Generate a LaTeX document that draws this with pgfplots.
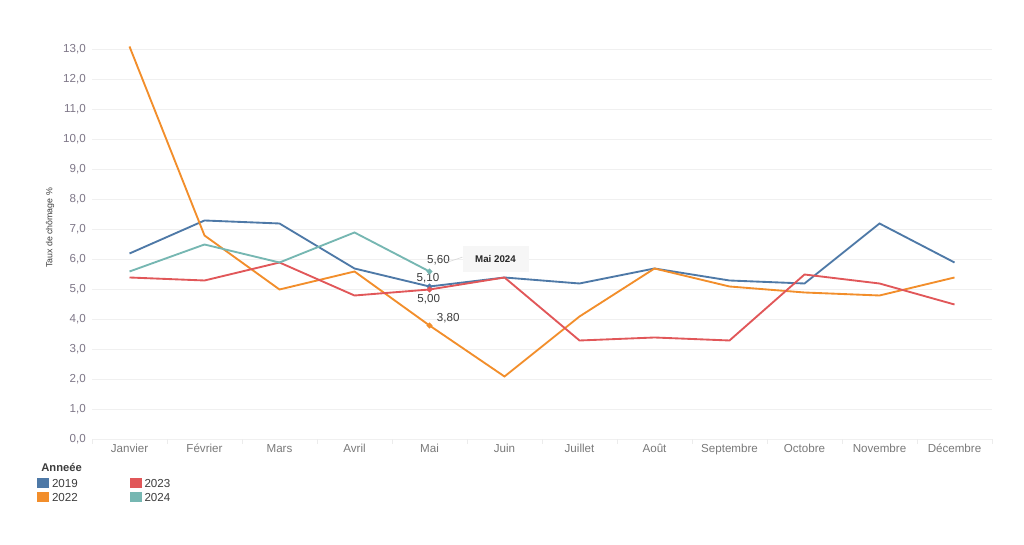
\documentclass[border=0pt]{standalone}
\usepackage{fontspec}
\setmainfont{Liberation Sans}
\usepackage{pgfplots}
\pgfplotsset{compat=1.18}

\definecolor{c2019}{HTML}{4E79A7}
\definecolor{c2022}{HTML}{F28E2B}
\definecolor{c2023}{HTML}{E15759}
\definecolor{c2024}{HTML}{76B7B2}
\definecolor{ticktxt}{RGB}{125,118,135}
\definecolor{lbltxt}{RGB}{60,60,60}

\begin{document}
\begin{tikzpicture}
\path[use as bounding box] (0,0) rectangle (768pt,408.75pt);

\begin{axis}[
  at={(69pt,79.125pt)}, anchor=south west,
  scale only axis, width=675pt, height=299.25pt,
  xmin=-0.5, xmax=11.5, ymin=0, ymax=13.3,
  xtick={0,...,11},
  xticklabels={Janvier,Février,Mars,Avril,Mai,Juin,Juillet,Août,Septembre,Octobre,Novembre,Décembre},
  ytick={0,1,...,13},
  yticklabel={\pgfmathprintnumber[fixed,fixed zerofill,precision=1,use comma]{\tick}},
  /pgf/number format/assume math mode=true,
  minor xtick={-0.5,0.5,...,11.5},
  xtick pos=bottom, ytick pos=left,
  tick align=outside,
  major tick length=0pt,
  minor tick length=3.5pt,
  minor x tick style={color=gray!15, line width=0.5pt},
  axis line style={draw=none},
  ymajorgrids,
  grid style={color=gray!12, line width=0.5pt},
  ticklabel style={font=\fontsize{8.7}{10}\selectfont},
  xticklabel style={color=gray!95!black, inner sep=0pt, yshift=-3.5pt},
  yticklabel style={color=ticktxt, inner sep=0pt, xshift=-4.5pt},
  ylabel={Taux de chômage \%},
  ylabel style={font=\fontsize{6.6}{8}\selectfont, color=lbltxt,
    at={(axis description cs:-0.0467,0.53)}, anchor=center},
  every axis plot/.append style={line width=1.4pt, mark size=1.3pt, mark indices={5}},
  legend columns=2, transpose legend,
  legend cell align=left,
  legend style={at={(axis description cs:-0.061,-0.092)}, anchor=north west,
    draw=none, fill=none, inner sep=0pt, row sep=-1pt,
    font=\fontsize{8.7}{10}\selectfont, text=lbltxt,
    /tikz/column 2/.style={column sep=37pt}},
  legend image code/.code={\fill[#1] (0pt,-2.2pt) rectangle (7.6pt,3.8pt);},
]

\addplot[color=c2019, mark=*] coordinates {
  (0,6.2) (1,7.3) (2,7.2) (3,5.7) (4,5.1) (5,5.4)
  (6,5.2) (7,5.7) (8,5.3) (9,5.2) (10,7.2) (11,5.9)
};
\addlegendentry{2019}

\addplot[color=c2022, mark=*] coordinates {
  (0,13.1) (1,6.8) (2,5.0) (3,5.6) (4,3.8) (5,2.1)
  (6,4.1) (7,5.7) (8,5.1) (9,4.9) (10,4.8) (11,5.4)
};
\addlegendentry{2022}

\addplot[color=c2023, mark=*] coordinates {
  (0,5.4) (1,5.3) (2,5.9) (3,4.8) (4,5.0) (5,5.4)
  (6,3.3) (7,3.4) (8,3.3) (9,5.5) (10,5.2) (11,4.5)
};
\addlegendentry{2023}

\addplot[color=c2024, mark=*] coordinates {
  (0,5.6) (1,6.5) (2,5.9) (3,6.9) (4,5.6)
};
\addlegendentry{2024}

% etiquettes de Mai
\begin{scope}[font=\fontsize{8.7}{10}\selectfont, text=lbltxt]
\node at (axis cs:4.12,5.98) {5,60};
\node at (axis cs:3.98,5.37) {5,10};
\node at (axis cs:3.99,4.68) {5,00};
\node at (axis cs:4.25,4.06) {3,80};
\end{scope}
\draw[gray!30, line width=0.5pt] (axis cs:4.25,5.92) -- (axis cs:4.44,6.08);
\node[fill=gray!7, text=black!85, minimum width=49.5pt, minimum height=20pt,
  font=\bfseries\fontsize{7.3}{9}\selectfont] at (axis cs:4.88,6.02) {Mai 2024};
\end{axis}

\node[anchor=west, font=\bfseries\fontsize{8.4}{10}\selectfont, text=lbltxt]
  at (27.5pt,58.5pt) {Anneée};
\end{tikzpicture}
\end{document}
